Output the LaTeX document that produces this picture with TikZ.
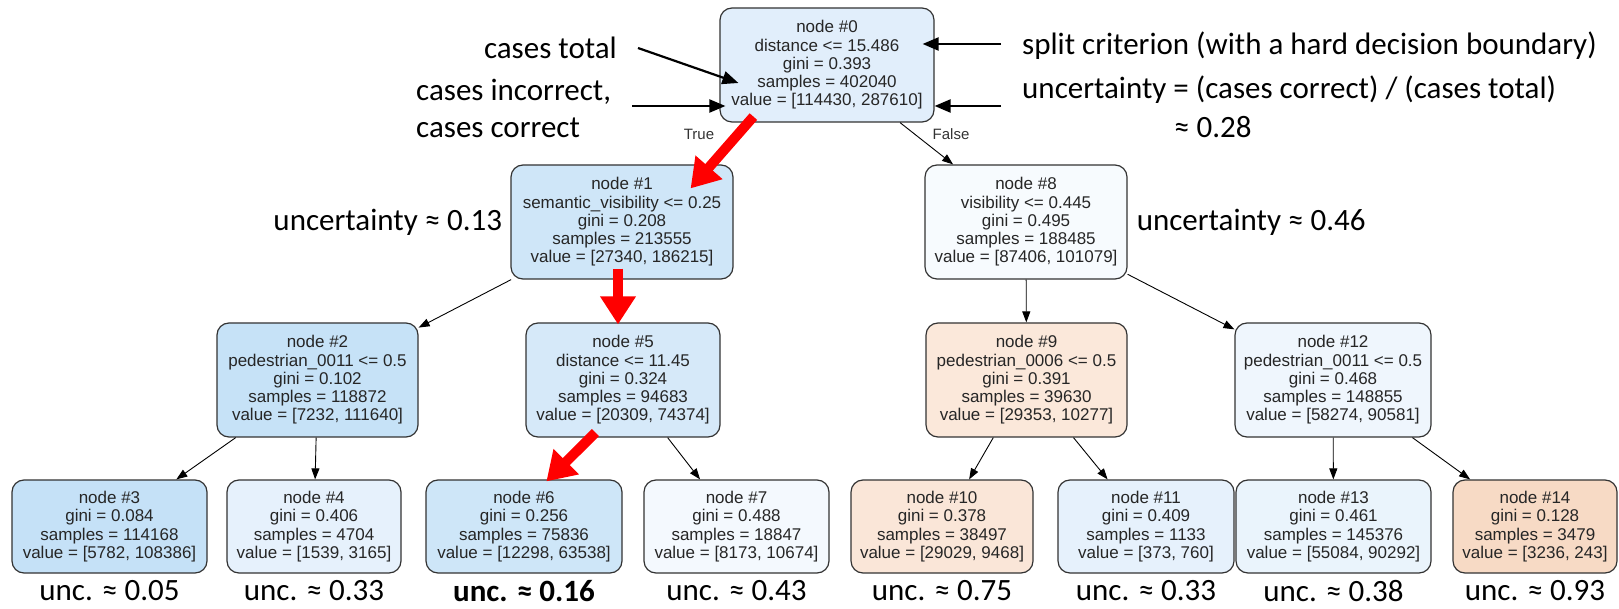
\documentclass[tikz,border=0pt]{standalone}
\usepackage{fontspec}
\setmainfont{Liberation Sans}
\newfontfamily\annfont{Carlito}
\usepackage{tikz}
\usetikzlibrary{arrows.meta,positioning}

\definecolor{c0}{HTML}{E1EEFB}
\definecolor{c1}{HTML}{CFE6F8}
\definecolor{c2}{HTML}{C6E2F7}
\definecolor{c3}{HTML}{C5E1F7}
\definecolor{c4}{HTML}{E6F1FC}
\definecolor{c5}{HTML}{D6E9F9}
\definecolor{c6}{HTML}{CEE6F8}
\definecolor{c7}{HTML}{F4F9FE}
\definecolor{c8}{HTML}{F7FBFE}
\definecolor{c9}{HTML}{FBE8DA}
\definecolor{c10}{HTML}{FAE6D8}
\definecolor{c11}{HTML}{E6F1FC}
\definecolor{c12}{HTML}{EFF6FD}
\definecolor{c13}{HTML}{EAF4FC}
\definecolor{c14}{HTML}{F7DAC5}

\begin{document}
\begin{tikzpicture}[x=1pt, y=1pt,
    tn/.style = {draw=black!80, line width=1.2pt, rounded corners=12pt, align=center, text=black!85, font=\fontsize{17}{18.3}\selectfont, inner sep=0pt},
    split/.style = {tn, minimum height=114pt},
    leaf/.style = {tn, minimum height=93pt},
    edge/.style = {-{Triangle[length=11pt,width=8pt]}, line width=0.9pt},
    redpath/.style = {-{Triangle[length=28pt,width=34pt]}, line width=10pt, red},
    ann/.style = {font=\annfont\fontsize{31}{37}\selectfont, inner sep=0pt},
    annarrow/.style = {-{Triangle[length=16pt,width=13pt]}, line width=2.2pt},
    unc/.style = {ann, below=7pt of #1},
    tf/.style = {text=black!80, font=\fontsize{15}{17}\selectfont, inner sep=0pt}]
    \useasboundingbox (0,0) rectangle (1619,608);

    % tree
    \node[split, fill=c0, minimum width=214pt] (n0) at (827,543) {node \#0\\distance <= 15.486\\gini = 0.393\\samples = 402040\\value = [114430, 287610]};
    \node[split, fill=c1, minimum width=222pt] (n1) at (622,386) {node \#1\\semantic\_visibility <= 0.25\\gini = 0.208\\samples = 213555\\value = [27340, 186215]};
    \node[split, fill=c8, minimum width=202pt] (n8) at (1026,386) {node \#8\\visibility <= 0.445\\gini = 0.495\\samples = 188485\\value = [87406, 101079]};
    \node[split, fill=c2, minimum width=201pt] (n2) at (317.5,228) {node \#2\\pedestrian\_0011 <= 0.5\\gini = 0.102\\samples = 118872\\value = [7232, 111640]};
    \node[split, fill=c5, minimum width=194pt] (n5) at (623,228) {node \#5\\distance <= 11.45\\gini = 0.324\\samples = 94683\\value = [20309, 74374]};
    \node[split, fill=c9, minimum width=201pt] (n9) at (1026.5,228) {node \#9\\pedestrian\_0006 <= 0.5\\gini = 0.391\\samples = 39630\\value = [29353, 10277]};
    \node[split, fill=c12, minimum width=196pt] (n12) at (1333,228) {node \#12\\pedestrian\_0011 <= 0.5\\gini = 0.468\\samples = 148855\\value = [58274, 90581]};
    \node[leaf, fill=c3, minimum width=195pt] (n3) at (109.5,81.5) {node \#3\\gini = 0.084\\samples = 114168\\value = [5782, 108386]};
    \node[leaf, fill=c4, minimum width=174pt] (n4) at (314,81.5) {node \#4\\gini = 0.406\\samples = 4704\\value = [1539, 3165]};
    \node[leaf, fill=c6, minimum width=196pt] (n6) at (524,81.5) {node \#6\\gini = 0.256\\samples = 75836\\value = [12298, 63538]};
    \node[leaf, fill=c7, minimum width=185pt] (n7) at (736.5,81.5) {node \#7\\gini = 0.488\\samples = 18847\\value = [8173, 10674]};
    \node[leaf, fill=c10, minimum width=182pt] (n10) at (942,81.5) {node \#10\\gini = 0.378\\samples = 38497\\value = [29029, 9468]};
    \node[leaf, fill=c11, minimum width=176pt] (n11) at (1146,81.5) {node \#11\\gini = 0.409\\samples = 1133\\value = [373, 760]};
    \node[leaf, fill=c13, minimum width=195pt] (n13) at (1333.5,81.5) {node \#13\\gini = 0.461\\samples = 145376\\value = [55084, 90292]};
    \node[leaf, fill=c14, minimum width=164pt] (n14) at (1535,81.5) {node \#14\\gini = 0.128\\samples = 3479\\value = [3236, 243]};

    \draw[edge] (n0) -- (n8);
    \draw[edge] (n1) -- (n2);
    \draw[edge] (n8) -- (n9);
    \draw[edge] (n8) -- (n12);
    \draw[edge] (n2) -- (n3);
    \draw[edge] (n2) -- (n4);
    \draw[edge] (n5) -- (n7);
    \draw[edge] (n9) -- (n10);
    \draw[edge] (n9) -- (n11);
    \draw[edge] (n12) -- (n13);
    \draw[edge] (n12) -- (n14);
    \node[tf] (t0) at (699,474) {True};
    \node[tf] (f0) at (951,474) {False};

    % highlighted path
    \draw[redpath] ([shift={(34pt,6pt)}]n0.south west) -- ([shift={(-43pt,-24pt)}]n1.north east);
    \draw[redpath] ([shift={(-4pt,11pt)}]n1.south) -- ([shift={(-5pt,-2pt)}]n5.north);
    \draw[redpath] ([shift={(70pt,5pt)}]n5.south west) -- ([shift={(121pt,-2pt)}]n6.north west);

    % annotations
    \node[ann, anchor=east] (ctot) at (617,560) {cases total};
    \node[ann, anchor=west, align=left] (cic) at (416,499.5) {cases incorrect,\\cases correct};
    \node[ann, anchor=west] (crit) at (1022,562) {split criterion (with a hard decision boundary)};
    \node[ann, anchor=west] (uform) at (1022,518) {uncertainty = (cases correct) / (cases total)};
    \node[ann, anchor=west] (uval) at (1174,481) {≈ 0.28};
    \draw[annarrow] ([xshift=21pt]ctot.east) -- ([shift={(19pt,-18pt)}]n0.west);
    \draw[annarrow] ([shift={(21pt,2.5pt)}]cic.east) -- ([shift={(6pt,-41pt)}]n0.west);
    \draw[annarrow] ([shift={(-21pt,2pt)}]crit.west) -- ([shift={(-12pt,21pt)}]n0.east);
    \draw[annarrow] ([shift={(-21pt,-16pt)}]uform.west) -- ([shift={(0pt,-41pt)}]n0.east);

    \node[ann, left=8pt of n1] (u1) {uncertainty ≈ 0.13};
    \node[ann, right=9pt of n8] (u8) {uncertainty ≈ 0.46};
    \node[unc=n3] (u3) {unc. ≈ 0.05};
    \node[unc=n4] (u4) {unc. ≈ 0.33};
    \node[unc=n6, font=\annfont\bfseries\fontsize{31}{37}\selectfont] (u6) {unc. ≈ 0.16};
    \node[unc=n7] (u7) {unc. ≈ 0.43};
    \node[unc=n10] (u10) {unc. ≈ 0.75};
    \node[unc=n11] (u11) {unc. ≈ 0.33};
    \node[unc=n13] (u13) {unc. ≈ 0.38};
    \node[unc=n14] (u14) {unc. ≈ 0.93};
\end{tikzpicture}
\end{document}
